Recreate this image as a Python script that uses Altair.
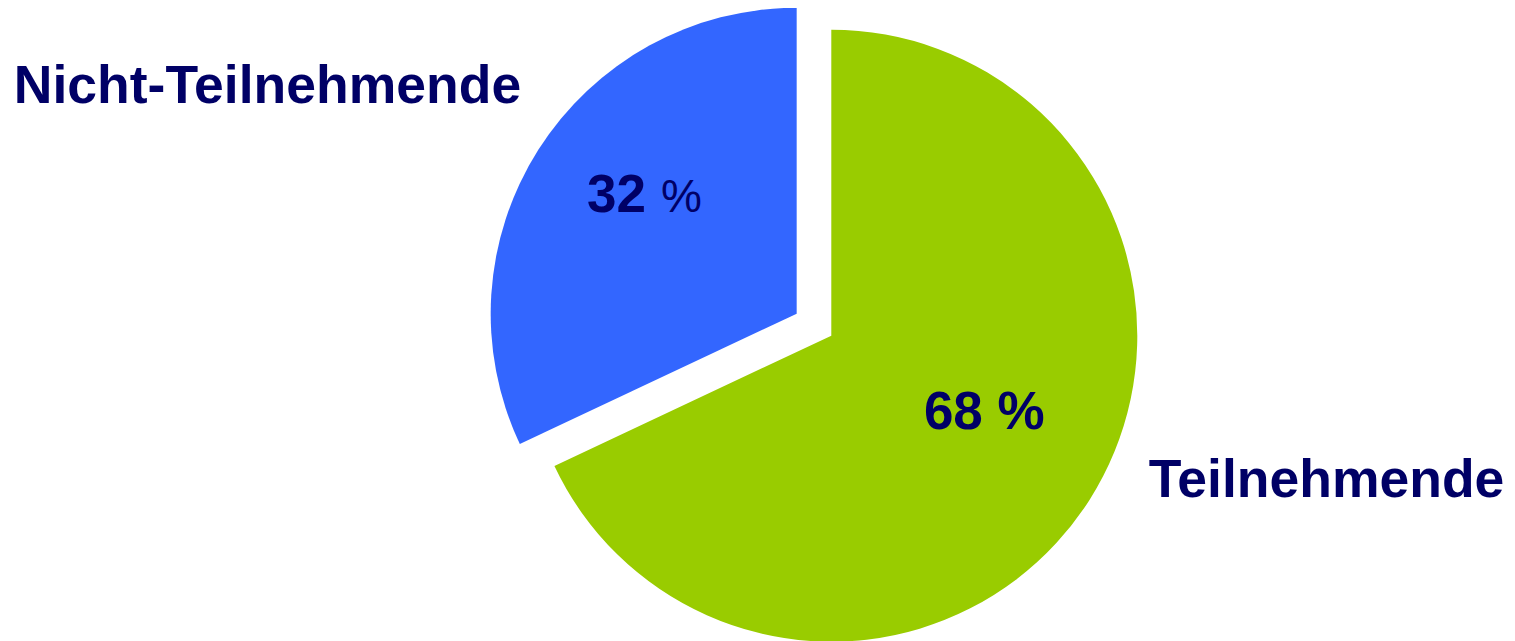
import math
import altair as alt
import pandas as pd

# ---- data ----
categories = ["Teilnehmende", "Nicht-Teilnehmende"]
values = [68, 32]
colors = ["#99CC00", "#3366FF"]
percent_suffix = "%"

df = pd.DataFrame({
    "category": categories,
    "value": values,
    "order": list(range(len(categories))),
})
df["label"] = df["value"].astype(str)

# ---- layout ----
W, H = 1499, 633
R = 306
CX, CY = 823.3, 327.7          # centre of the (non exploded) pie
EXPLODE = 41                     # explode distance of the second slice
TEXT_COLOR = "#000066"
FONT = "Liberation Sans"
FS = 53.5

total = sum(values)
start = values[0] / total
mid = 2 * math.pi * (start + values[1] / total / 2)
EX = CX + EXPLODE * math.sin(mid)
EY = CY - EXPLODE * math.cos(mid)

base = alt.Chart(df).encode(
    theta=alt.Theta("value:Q", stack=True),
    order=alt.Order("order:Q"),
    color=alt.Color("category:N", scale=alt.Scale(domain=categories, range=colors), legend=None),
)

arc_main = base.mark_arc(radius=R, strokeWidth=0).encode(
    x=alt.value(CX), y=alt.value(CY),
    opacity=alt.condition(alt.datum.category == categories[0], alt.value(1), alt.value(0)),
)
arc_expl = base.mark_arc(radius=R, strokeWidth=0).encode(
    x=alt.value(EX), y=alt.value(EY),
    opacity=alt.condition(alt.datum.category == categories[1], alt.value(1), alt.value(0)),
)

tbase = alt.Chart(df)

def txt(filter_cat, field_expr, x, y, align="center", weight="bold", size=FS):
    return tbase.transform_filter(alt.datum.category == filter_cat).transform_calculate(
        t=field_expr
    ).mark_text(
        font=FONT, fontSize=size, fontWeight=weight, color=TEXT_COLOR,
        align=align, baseline="alphabetic",
    ).encode(text="t:N", x=alt.value(x), y=alt.value(y))

lbl_cat0 = txt(categories[0], "datum.category", 1318.5, 489)
lbl_cat1 = txt(categories[1], "datum.category", 259.5, 95)
lbl_val0 = txt(categories[0], f"datum.label + ' {percent_suffix}'", 976.3, 421, size=53)
lbl_val1 = txt(categories[1], "datum.label", 638, 204, align="right", size=53)
lbl_pct1 = txt(categories[1], f"'{percent_suffix}'", 653, 204, align="left", weight="normal", size=46)

chart = alt.layer(
    arc_main, arc_expl, lbl_cat0, lbl_cat1, lbl_val0, lbl_val1, lbl_pct1
).properties(
    width=W, height=H,
    autosize=alt.AutoSizeParams(type="none"),
    padding=0,
    background="white",
).configure_view(strokeWidth=0, stroke="transparent")

chart.save("out.html", embed_options={"renderer": "svg", "actions": False})
